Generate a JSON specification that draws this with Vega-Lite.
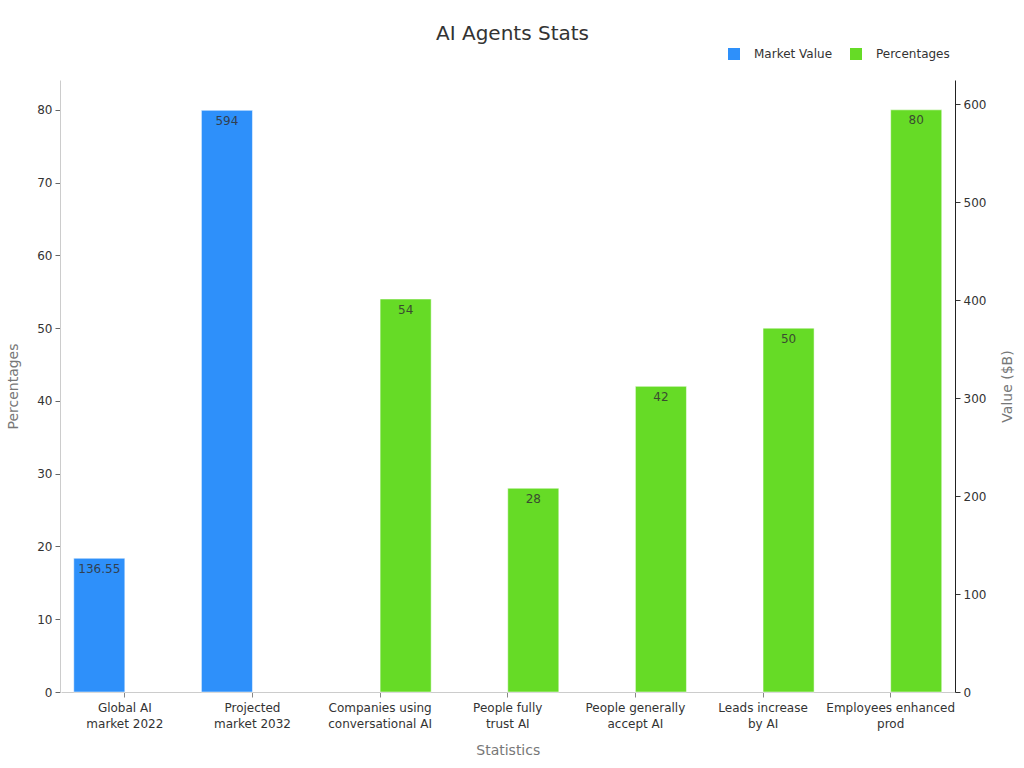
{
"$schema":"https://vega.github.io/schema/vega-lite/v6.json",
"width":895,"height":612,
"autosize":{"type":"none"},
"padding":{"left":60,"top":80,"right":69,"bottom":76},
"background":"white",
"title":{"text":"AI Agents Stats","anchor":"middle","dx":5,"fontSize":20,"fontWeight":"normal","font":"DejaVu Sans","color":"#333333","offset":4},
"config":{"font":"DejaVu Sans","view":{"stroke":null}},
"data":{"values":[
{"statistic":"Global AI market 2022","series":"Market Value","value":136.55},
{"statistic":"Projected market 2032","series":"Market Value","value":594},
{"statistic":"Companies using conversational AI","series":"Percentages","value":54},
{"statistic":"People fully trust AI","series":"Percentages","value":28},
{"statistic":"People generally accept AI","series":"Percentages","value":42},
{"statistic":"Leads increase by AI","series":"Percentages","value":50},
{"statistic":"Employees enhanced prod","series":"Percentages","value":80}
]},
"encoding":{
"x":{"field":"statistic","type":"nominal","sort":null,"title":"Statistics",
"scale":{"domain":["Global AI market 2022","Projected market 2032","Companies using conversational AI","People fully trust AI","People generally accept AI","Leads increase by AI","Employees enhanced prod"],"paddingInner":0.2,"paddingOuter":0.1,"range":[1,894.5]},
"axis":{"labelAngle":0,"labelFontSize":12,"labelColor":"#333333","labelPadding":5,"labelLineHeight":16,"tickColor":"#888888","tickSize":5,"domainColor":"#cccccc","grid":false,"titleFontSize":14,"titleFontWeight":"normal","titleColor":"#777777","titlePadding":14,
"labelExpr":"{'Global AI market 2022':['Global AI','market 2022'],'Projected market 2032':['Projected','market 2032'],'Companies using conversational AI':['Companies using','conversational AI'],'People fully trust AI':['People fully','trust AI'],'People generally accept AI':['People generally','accept AI'],'Leads increase by AI':['Leads increase','by AI'],'Employees enhanced prod':['Employees enhanced','prod']}[datum.value]"}},
"xOffset":{"field":"series","type":"nominal","scale":{"domain":["Market Value","Percentages"],"paddingInner":0,"paddingOuter":0}}
},
"layer":[
{"transform":[{"filter":"datum.series==='Percentages'"}],
"encoding":{"y":{"field":"value","type":"quantitative","title":"Percentages","scale":{"domain":[0,84.1],"nice":false},
"axis":{"orient":"left","values":[0,10,20,30,40,50,60,70,80],"grid":false,"labelFontSize":12,"labelColor":"#333333","labelPadding":3,"tickColor":"#666666","tickSize":5,"domainColor":"#cccccc","titleFontSize":14,"titleFontWeight":"normal","titleColor":"#777777","titlePadding":16}}},
"layer":[
{"mark":{"type":"bar","stroke":"#ffffff","strokeOpacity":0.5,"strokeWidth":1},
"encoding":{"color":{"field":"series","type":"nominal","scale":{"domain":["Market Value","Percentages"],"range":["#2E90FA","#66DB26"]},
"legend":{"orient":"none","direction":"horizontal","legendX":668,"legendY":-32,"title":null,"symbolType":"square","symbolSize":144,"labelFontSize":12,"labelColor":"#333333","labelOffset":14,"columnPadding":17,"symbolStrokeWidth":0}}}},
{"mark":{"type":"text","fontSize":12,"color":"#333333","opacity":0.85,"baseline":"middle","dy":10.5},
"encoding":{"text":{"field":"value","type":"quantitative"}}}
]},
{"transform":[{"filter":"datum.series==='Market Value'"}],
"encoding":{"y":{"field":"value","type":"quantitative","title":"Value ($B)","scale":{"domain":[0,625],"nice":false},
"axis":{"orient":"right","values":[0,100,200,300,400,500,600],"grid":false,"labelFontSize":12,"labelColor":"#333333","labelPadding":3,"tickColor":"#333333","tickSize":5,"domainColor":"#222222","titleFontSize":14,"titleFontWeight":"normal","titleColor":"#777777","titleAngle":270,"titlePadding":29}}},
"layer":[
{"mark":{"type":"bar","stroke":"#ffffff","strokeOpacity":0.5,"strokeWidth":1},
"encoding":{"color":{"field":"series","type":"nominal"}}},
{"mark":{"type":"text","fontSize":12,"color":"#333333","opacity":0.85,"baseline":"middle","dy":10.5},
"encoding":{"text":{"field":"value","type":"quantitative"}}}
]}
],
"resolve":{"scale":{"y":"independent"},"axis":{"y":"independent"}}
}
